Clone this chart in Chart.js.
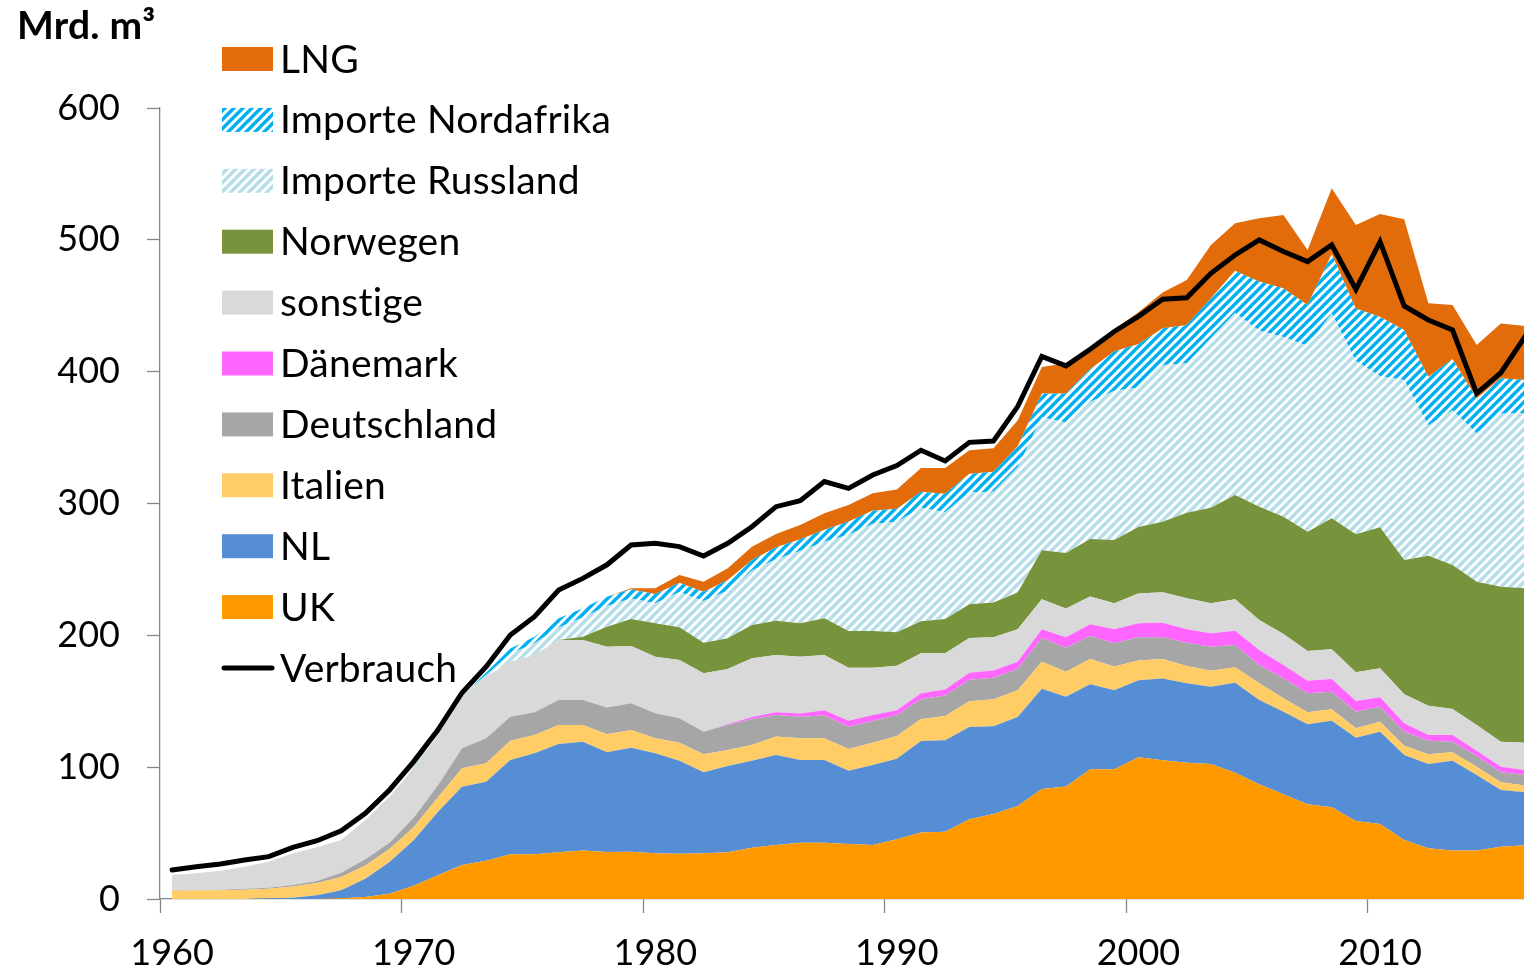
<!DOCTYPE html>
<html lang="de">
<head>
<meta charset="utf-8">
<title>Erdgas Europa</title>
<script src="https://cdn.jsdelivr.net/npm/chart.js@4.4.1/dist/chart.umd.min.js"></script>
<style>
  html, body { margin: 0; padding: 0; overflow: hidden; background: #fff; }
  /* plot runs a little past the window, the picture is cut at the last year */
  #wrap { position: absolute; left: 0; top: 0; width: 1544px; height: 974px; }
</style>
</head>
<body>
<div id="wrap"><canvas id="chart"></canvas></div>
<script>
// Jahre (Kategorien)
const years = [1960,1961,1962,1963,1964,1965,1966,1967,1968,1969,
  1970,1971,1972,1973,1974,1975,1976,1977,1978,1979,
  1980,1981,1982,1983,1984,1985,1986,1987,1988,1989,
  1990,1991,1992,1993,1994,1995,1996,1997,1998,1999,
  2000,2001,2002,2003,2004,2005,2006,2007,2008,2009,
  2010,2011,2012,2013,2014,2015,2016];

// Aufkommen in Mrd. m³, gestapelt von unten nach oben
const uk = [0,0,0,0,0,0,0,0.5,1.5,4,
  10,18,25.8,29,34,34,35.4,36.7,35.7,35.9,
  34.7,34.4,34.7,35.4,38.9,41,42.7,42.7,41.7,41,
  45.4,50.4,51,60.5,64.5,70.5,83.4,85.4,98.4,98.4,
  107.6,105.2,103.4,102.4,95.8,87,79.4,71.8,69.6,59.2,
  56.9,44.8,38.5,36.7,36.7,39.7,40.7];
const nl = [0,0,0,0,0.5,1,2.8,6.1,13.9,24,
  34.5,48,59.4,60,71.4,76.5,82.2,82.6,75.6,78.9,
  75.8,70.5,61.4,65.5,66,68.2,62.7,62.7,55.6,60.6,
  61,69.5,69.5,70,66.6,67.5,76.1,68.1,64.5,60,
  58.4,62,60.2,58.6,68.3,64,62.7,60.7,65.7,63.2,
  70,64.4,63.9,68.2,57.4,43,40.2];
const italien = [6.3,6.4,6.6,7,7.3,8.5,9.3,10,10,10,
  10,11,13.9,13.9,14.7,13.9,14.4,12.7,13.6,13.4,
  11.4,13.7,13.7,12.1,11.9,14,16.5,16.5,16.5,17,
  17.2,16.6,18.3,19.5,20.4,20.4,20.5,18.9,19.2,18,
  15,14.8,13.1,12.2,11.6,12.6,10.1,9.1,8.6,7.1,
  7.6,7.1,7.4,6.4,6.3,5.8,5.1];
const deutschland = [0.3,0.4,0.5,0.7,0.8,1.1,1.5,3.4,4.7,4.7,
  7.2,9,15.2,19,18.2,17.2,19,19,20.3,20.3,
  19,18.5,17.1,19,19.8,16.4,16.4,17.2,16.9,16.4,
  15.8,15,15.6,16.4,16.4,16.1,18,18.1,17.3,17.6,
  17.6,16.5,17.7,18.2,17,13.9,15.2,14.4,13.4,12.6,
  11.4,10.6,10.3,8,8.1,7.6,8.1];
const daenemark = [0,0,0,0,0,0,0,0,0,0,
  0,0,0,0,0,0,0,0,0,0,
  0,0,0,0.5,1.5,2,2.5,4,4.5,4.5,
  3.7,4.5,4.5,5.2,5.5,5.5,6.6,8.1,9.1,10.6,
  10.5,11.1,10.2,10.1,10.8,11.4,10.1,9.6,9.6,8.1,
  7.1,6.4,4.3,5.1,4,4.3,3.8];
const sonstige = [11.6,12.7,14.4,16.8,19.7,24.1,25.6,24.8,29.8,34.9,
  37.4,38.4,39.2,46.7,41.7,43.5,45.5,45.5,46.2,43.4,
  42.9,44.2,44.3,42,44.5,43.5,43,42,40.3,36,
  33.9,30.5,27.6,26.4,25.2,24.6,22.7,21.8,21,19.8,
  22.7,23,23.5,22.8,23.8,22.7,23.5,22.5,22.5,21.8,
  22,22,22.2,19.7,19.5,18.9,20.7];
const norwegen = [0,0,0,0,0,0,0,0,0,0,
  0,0,0,0,0,0,0,2.5,15.2,20.5,
  25.3,24.8,23.2,23.2,25.2,26,25.3,27.8,27.8,27.8,
  25.3,24.1,25.8,25.5,26.4,27.8,37.3,42.1,43.5,47.9,
  50.4,53.6,64.9,72.5,79.2,86,89,90.5,99.4,104.6,
  107,101.9,113.8,109.3,108.7,117.6,117.1];
const russland = [0,0,0,0,0,0,0,0,0,0,
  1,1.8,1.5,1.4,6,8.9,9.4,14.5,15.7,15.5,
  15.3,26.8,31.7,36.2,41.3,46.7,54.8,58.1,73,81.3,
  83.7,86.4,81.1,85,84,95.1,100.8,98.9,104,113.2,
  105.8,118.8,113.4,128.8,138.1,133.7,136.3,141,155.5,131.4,
  114.7,136.4,98.8,117.3,112.6,131.1,133];
const nordafrika = [0,0,0,0,0,0,0,0,0,0,
  0.4,0.8,2,2,4,5,7,7,7,7,
  7,7,7,8,8,9,9,9,10,10,
  10,12,14,14,15,16,18,22,25,30,
  33,28,29,30,32,37,37,31,45,40,
  45,38,37,39,26.5,27,25];
const lng = [0,0,0,0,0,0,0,0,0,0,
  0,0,0,0,0,0,0,0,0,0.8,
  4.3,5.9,7.6,8.9,10.1,10.1,10.8,12.6,12.5,13.1,
  14.6,17.9,19.5,17.9,17.9,19.4,20.1,23,16.5,16.4,
  24,27,34.1,40.5,36,48.1,55.6,41.7,49.8,63.3,
  77.9,84,55.7,40.9,40.4,41.6,40.9];
// Verbrauch (Linie)
const verbrauch = [22,24.5,26.5,29.6,32.1,39.2,44.2,51.8,65,82.7,
  104.2,128.2,156.5,176.2,200.3,214.1,234.4,243.2,253.5,268.5,
  269.8,267.3,260.2,269.8,282.4,297.6,302.2,316.6,311.5,321.6,
  328.8,340.4,332.3,346.4,347.4,373.5,411.6,404.4,417,430.5,
  442,455,456,474.6,488.5,499.9,491.1,483.5,496.1,462.5,
  498.6,449.8,439.2,431.6,383.6,399.2,426.5];

const canvas = document.getElementById("chart");
const ctx = canvas.getContext("2d");

// diagonal hatch like the excel pattern fill
function stripes(color, size, width) {
  const tile = document.createElement("canvas");
  tile.width = size;
  tile.height = size;
  const t = tile.getContext("2d");
  t.strokeStyle = color;
  t.lineWidth = width;
  t.beginPath();
  for (const k of [0, size, 2 * size]) {
    t.moveTo(k - 2 * size, 2 * size);
    t.lineTo(k + size, -size);
  }
  t.stroke();
  return ctx.createPattern(tile, "repeat");
}

function area(label, data, color) {
  return {
    label: label,
    data: data,
    backgroundColor: color,
    borderColor: "rgba(0,0,0,0)",
    borderWidth: 0,
    pointRadius: 0,
    fill: "-1",
    stack: "aufkommen",
  };
}

const datasets = [
  {
    label: "Verbrauch",
    data: verbrauch,
    borderColor: "#000000",
    borderWidth: 5,
    borderCapStyle: "round",
    pointRadius: 0,
    fill: false,
    stack: "verbrauch",
  },
  Object.assign(area("UK", uk, "#FF9900"), { fill: "origin" }),
  area("NL", nl, "#558ED5"),
  area("Italien", italien, "#FFCC66"),
  area("Deutschland", deutschland, "#A6A6A6"),
  area("Dänemark", daenemark, "#FF66FF"),
  area("sonstige", sonstige, "#D9D9D9"),
  area("Norwegen", norwegen, "#77933C"),
  area("Importe Russland", russland, stripes("#B7DEE8", 9, 3.6)),
  area("Importe Nordafrika", nordafrika, stripes("#00B0F0", 9, 3.4)),
  area("LNG", lng, "#E36C0A"),
];

const axisGrey = "#868686";

// unit label and the legend block inside the plot
const extras = {
  id: "extras",
  afterDraw(chart) {
    const c = chart.ctx;
    c.save();
    c.letterSpacing = "0.2px"; // keeps "st" from turning into a ligature
    c.fillStyle = "#000";
    c.font = "bold 39px Lato";
    c.textBaseline = "alphabetic";
    c.textAlign = "left";
    c.fillText("Mrd. m³", 17, 39);

    c.font = "39px Lato";
    c.textBaseline = "middle";
    chart.data.datasets.slice().reverse().forEach((ds, k) => {
      const y = 59 + k * 60.9;
      if (ds.fill === false) {
        c.strokeStyle = ds.borderColor;
        c.lineWidth = ds.borderWidth;
        c.lineCap = "round";
        c.beginPath();
        c.moveTo(224, y);
        c.lineTo(272, y);
        c.stroke();
      } else {
        c.fillStyle = ds.backgroundColor;
        c.fillRect(222, y - 12, 51, 24);
      }
      c.fillStyle = "#000";
      c.fillText(ds.label, 280, y + 1);
    });
    c.restore();
  },
};

Chart.defaults.font.family = "Lato";

new Chart(ctx, {
  type: "line",
  data: { labels: years, datasets: datasets },
  options: {
    responsive: true,
    maintainAspectRatio: false,
    animation: false,
    events: [],
    layout: { padding: { top: 108, left: 0, right: 0, bottom: 0 } },
    elements: { line: { tension: 0 } },
    plugins: {
      legend: { display: false },
      tooltip: { enabled: false },
    },
    scales: {
      x: {
        type: "category",
        offset: true,
        grid: {
          offset: true,
          drawOnChartArea: false,
          tickLength: 14,
          tickWidth: 1.3,
          tickColor: (c) => (c.tick && years[c.index] % 10 === 0 ? axisGrey : "rgba(0,0,0,0)"),
        },
        border: { color: axisGrey, width: 1.3 },
        ticks: {
          autoSkip: false,
          maxRotation: 0,
          padding: 19,
          color: "#000",
          font: { size: 36 },
          callback: (value, index) => (years[index] % 10 === 0 ? String(years[index]) : ""),
        },
        afterFit: (scale) => { scale.height = 75; },
      },
      y: {
        stacked: true,
        min: 0,
        max: 600,
        grid: {
          drawOnChartArea: false,
          tickLength: 13,
          tickWidth: 1.3,
          tickColor: axisGrey,
        },
        border: { color: axisGrey, width: 1.3 },
        ticks: {
          stepSize: 100,
          padding: 27,
          color: "#000",
          font: { size: 36 },
        },
        afterFit: (scale) => { scale.width = 160; },
      },
    },
  },
  plugins: [extras],
});
</script>
</body>
</html>
